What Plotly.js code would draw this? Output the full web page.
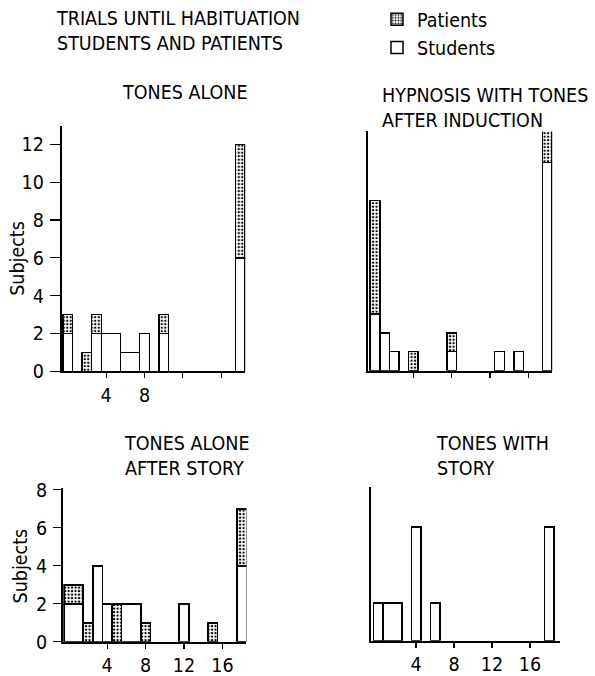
<!DOCTYPE html>
<html><head><meta charset="utf-8">
<script src="https://cdn.plot.ly/plotly-3.0.1.min.js"></script>
<style>html,body{margin:0;padding:0;background:#fff}</style>
</head><body><div id="chart" style="width:595px;height:676px"></div>
<script>
// ---- data (trials until habituation; bins given as first/last trial count) ----
const tonesAloneStart    = [0,2,3,4,6,8,10,18];
const tonesAloneEnd      = [0,2,3,5,7,8,10,18];
const tonesAloneStudents = [2,0,2,2,1,2,2,6];
const tonesAlonePatients = [1,1,1,0,0,0,1,6];

const hypnosisStart    = [0,1,2,4,8,13,15,18];
const hypnosisEnd      = [0,1,2,4,8,13,15,18];
const hypnosisStudents = [3,2,1,0,1,1,1,11];
const hypnosisPatients = [6,0,0,1,1,0,0,2];

const afterStoryStart    = [0,2,3,4,5,6,8,12,15,18];
const afterStoryEnd      = [1,2,3,4,5,7,8,12,15,18];
const afterStoryStudents = [2,0,4,2,0,2,0,2,0,4];
const afterStoryPatients = [1,1,0,0,2,0,1,0,1,3];

const withStoryStart    = [0,1,4,6,18];
const withStoryEnd      = [0,2,4,6,18];
const withStoryStudents = [2,2,6,2,6];
const withStoryPatients = [0,0,0,0,0];

const xTickVals = [4,8,12,16];
const xTickTextTL = ['4','8','',''];
const xTickTextTR = ['','','',''];
const xTickTextBottom = ['4','8','12','16'];
const yTicksTop = [0,2,4,6,8,10,12];
const yTicksBottom = [0,2,4,6,8];

const panelTitles = ['TONES ALONE','HYPNOSIS WITH TONES<br>AFTER INDUCTION','TONES ALONE<br>AFTER STORY','TONES WITH<br>STORY'];
const mainTitle = 'TRIALS UNTIL HABITUATION<br>STUDENTS AND PATIENTS';
const yLabel = 'Subjects';

// ---- rendering ----
const FONT = '"Liberation Sans Narrow", "DejaVu Sans Condensed", "Arial Narrow", sans-serif';
const FS = 19.5;
const W = 595, H = 676;
const px = v => v / W;
const py = v => 1 - v / H;
const nz = a => a.map(v => v === 0 ? null : v);

function panelTraces(start, end, stud, pat, xa, ya, legend) {
  const x = start.map((s,i) => (s + end[i]) / 2);
  const w = start.map((s,i) => end[i] - s + 1);
  return [
    {type:'bar', name:'Students', x:x, y:nz(stud), width:w, xaxis:xa, yaxis:ya,
     marker:{color:'white', line:{color:'black', width:1.5}}, showlegend:legend, legendrank:2, hoverinfo:'skip'},
    {type:'bar', name:'Patients', x:x, y:nz(pat), width:w, xaxis:xa, yaxis:ya,
     marker:{color:'white', line:{color:'black', width:1.5},
       pattern:{shape:'.', fgcolor:'black', bgcolor:'white', size:3.5, solidity:0.35}},
     showlegend:legend, legendrank:1, hoverinfo:'skip'}
  ];
}

const data = [].concat(
  panelTraces(tonesAloneStart, tonesAloneEnd, tonesAloneStudents, tonesAlonePatients, 'x', 'y', true),
  panelTraces(hypnosisStart, hypnosisEnd, hypnosisStudents, hypnosisPatients, 'x2', 'y2', false),
  panelTraces(afterStoryStart, afterStoryEnd, afterStoryStudents, afterStoryPatients, 'x3', 'y3', false),
  panelTraces(withStoryStart, withStoryEnd, withStoryStudents, withStoryPatients, 'x4', 'y4', false)
);

const tickFont = {family: FONT, size: FS, color: 'black'};
function xax(domPx, range, ttext, anchor) {
  return {domain:[px(domPx[0]), px(domPx[1])], range:range, anchor:anchor,
    showline:true, linecolor:'black', linewidth:2, showgrid:false, zeroline:false,
    tickmode:'array', tickvals:xTickVals, ticktext:ttext, ticks:'outside', ticklen:5,
    tickwidth:1.2, tickcolor:'black', tickfont:tickFont, fixedrange:true};
}
function yax(domPx, range, tvals, anchor, showLabels, tlen) {
  return {domain:[py(domPx[0]), py(domPx[1])], range:range, anchor:anchor,
    showline:true, linecolor:'black', linewidth:2.2, showgrid:false, zeroline:false,
    tickmode:'array', tickvals:tvals, ticks: showLabels ? 'outside' : '', ticklen:tlen,
    tickwidth:1.2, tickcolor:'black', showticklabels:showLabels, tickfont:tickFont,
    ticklabelstandoff:2, fixedrange:true};
}

const annFont = {family: FONT, size: FS, color: 'black'};
const layout = {
  width:W, height:H, margin:{l:0,r:0,t:0,b:0},
  paper_bgcolor:'white', plot_bgcolor:'white',
  barmode:'stack', bargap:0,
  font:{family:FONT, size:FS, color:'black'},
  showlegend:true,
  legend:{x:px(377), y:py(-3), xanchor:'left', yanchor:'top', traceorder:'normal',
    font:{family:FONT, size:FS, color:'black'}, itemwidth:30, tracegroupgap:0, bgcolor:'rgba(0,0,0,0)'},
  xaxis:  xax([62, 245.2], [-0.6, 18.5], xTickTextTL, 'y'),
  yaxis:  yax([370, 124], [0, 12.95], yTicksTop, 'x', true, 10),
  xaxis2: xax([367.8, 552.2], [-0.75, 18.5], xTickTextTR, 'y2'),
  yaxis2: yax([369.3, 129], [0, 12.65], yTicksTop, 'x2', false, 0),
  xaxis3: xax([63.3, 246.4], [-0.57, 18.5], xTickTextBottom, 'y3'),
  yaxis3: yax([641.7, 487], [0, 8.1], yTicksBottom, 'x3', true, 8),
  xaxis4: xax([371, 560.4], [-0.74, 19.2], xTickTextBottom, 'y4'),
  yaxis4: yax([640.7, 486], [0, 8.1], yTicksBottom, 'x4', false, 0),
  annotations:[
    {text:mainTitle, x:px(54), y:py(2), xref:'paper', yref:'paper', xanchor:'left', yanchor:'top', align:'left', showarrow:false, font:annFont},
    {text:panelTitles[0], x:px(120), y:py(76), xref:'paper', yref:'paper', xanchor:'left', yanchor:'top', align:'left', showarrow:false, font:annFont},
    {text:panelTitles[1], x:px(380), y:py(79), xref:'paper', yref:'paper', xanchor:'left', yanchor:'top', align:'left', showarrow:false, font:annFont},
    {text:panelTitles[2], x:px(122), y:py(429), xref:'paper', yref:'paper', xanchor:'left', yanchor:'top', align:'left', showarrow:false, font:annFont},
    {text:panelTitles[3], x:px(434), y:py(429), xref:'paper', yref:'paper', xanchor:'left', yanchor:'top', align:'left', showarrow:false, font:annFont},
    {text:yLabel, x:px(18), y:py(257), xref:'paper', yref:'paper', xanchor:'center', yanchor:'middle', textangle:-90, showarrow:false, font:annFont},
    {text:yLabel, x:px(20), y:py(566), xref:'paper', yref:'paper', xanchor:'center', yanchor:'middle', textangle:-90, showarrow:false, font:annFont}
  ]
};

Plotly.newPlot('chart', data, layout, {staticPlot:true, displayModeBar:false});
</script></body></html>
